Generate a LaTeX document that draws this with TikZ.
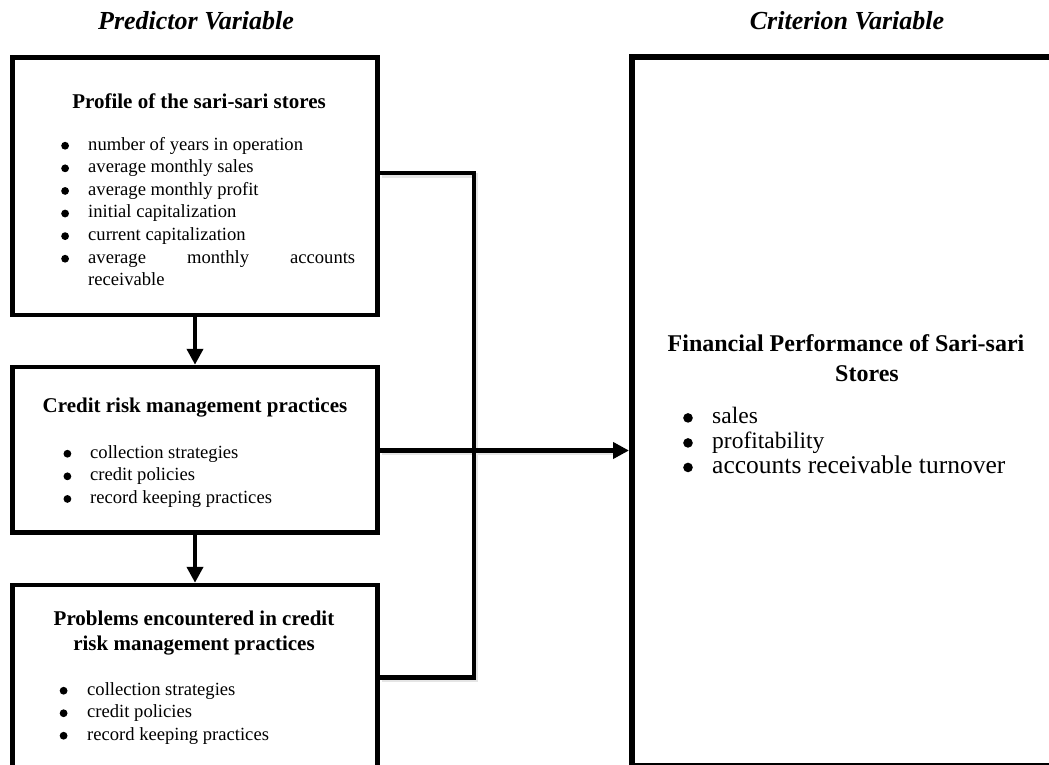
\documentclass[tikz,border=0pt]{standalone}
\usepackage{fontspec}
\setmainfont{Liberation Serif}
\usetikzlibrary{arrows.meta}
\newcommand{\dotb}[1]{\tikz[baseline=-0.5ex]\fill[black] (0,0) circle (#1);}
\newcommand{\blt}[2]{\makebox[28pt][l]{\hspace*{#1}\dotb{3.9pt}}#2}
\begin{document}
\begin{tikzpicture}[x=1pt,y=-1pt,
  lbox/.style={draw, line width=4.5pt, rectangle, inner sep=0pt},
  rbox/.style={draw, line width=6pt, rectangle, inner sep=0pt},
  conn/.style={line width=4.5pt, line join=miter, line cap=butt},
  shd/.style={line width=5pt, line join=miter, draw=black!10, transform canvas={shift={(1.8pt,-2.2pt)}}},
  arr/.style={conn, -{Triangle[length=16pt,width=16pt]}},
  ttl/.style={anchor=base, inner sep=0pt, font=\fontsize{26}{30}\selectfont\bfseries\itshape},
  hd/.style={anchor=base, inner sep=0pt, font=\fontsize{21}{25}\selectfont\bfseries},
  rhd/.style={anchor=base, inner sep=0pt, font=\fontsize{24}{28}\selectfont\bfseries},
  itm/.style={anchor=base west, inner sep=0pt, font=\fontsize{18.6}{22.6}\selectfont},
  ritm/.style={anchor=base west, inner sep=0pt, font=\fontsize{23.5}{28}\selectfont},
]
\useasboundingbox (0,0) rectangle (1049,765);
\fill[white] (0,0) rectangle (1049,765);
\clip (0,0) rectangle (1049,765);

% titles
\node[ttl] (tp) at (196,30) {Predictor Variable};
\node[ttl] (tc) at (847,30) {Criterion Variable};

% boxes
\node[lbox, minimum width=365pt, minimum height=257.3pt] (b1) at (195,186.35) {};
\node[lbox, minimum width=365pt, minimum height=165.5pt] (b2) at (195,449.75) {};
\node[lbox, minimum width=365pt, minimum height=183pt] (b3) at (195,676.5) {};
\node[rbox, minimum width=430pt, minimum height=708.7pt] (r) at (847,411.65) {};

% connector points
\coordinate (j1) at (474,173);
\coordinate (j3) at (474,677.5);
\coordinate (j2) at (474,450.5);

% faint shadows of the connectors
\draw[shd] (b1.east |- j1) -- (j1) -- (j3) -- (b3.east |- j3);
\draw[shd] (b2.east |- j2) -- ([xshift=-16pt]r.west |- j2);

% box 1 text
\node[hd] (h1) at (199,109) {Profile of the sari-sari stores};
\node[itm] (i11) at (60,150) {\blt{1pt}{number of years in operation}};
\node[itm] (i12) at (60,172.6) {\blt{1pt}{average monthly sales}};
\node[itm] (i13) at (60,195.2) {\blt{1pt}{average monthly profit}};
\node[itm] (i14) at (60,217.8) {\blt{1pt}{initial capitalization}};
\node[itm] (i15) at (60,240.4) {\blt{1pt}{current capitalization}};
\node[itm] (i16) at (60,263) {\blt{1pt}{\hbox to 267pt{average\hfil monthly\hfil accounts}}};
\node[itm] (i17) at (88,285.6) {receivable};

% box 2 text
\node[hd] (h2) at (195,412.7) {Credit risk management practices};
\node[itm] (i21) at (62,458) {\blt{1.3pt}{collection strategies}};
\node[itm] (i22) at (62,480.6) {\blt{1.3pt}{credit policies}};
\node[itm] (i23) at (62,503.2) {\blt{1.3pt}{record keeping practices}};

% box 3 text
\node[hd] (h3a) at (194,625) {Problems encountered in credit};
\node[hd] (h3b) at (194,650) {risk management practices};
\node[itm] (i31) at (59,695) {\blt{0.5pt}{collection strategies}};
\node[itm] (i32) at (59,717.5) {\blt{0.5pt}{credit policies}};
\node[itm] (i33) at (59,740) {\blt{0.5pt}{record keeping practices}};

% right box text
\node[rhd] (rh1) at (846,351.7) {Financial Performance of Sari-sari};
\node[rhd] (rh2) at (867,381.7) {Stores};
\node[ritm] (ri1) at (683,423.3) {\makebox[29pt][l]{\dotb{4.8pt}}sales};
\node[ritm] (ri2) at (683,448.3) {\makebox[29pt][l]{\dotb{4.8pt}}profitability};
\node[ritm, font=\fontsize{25.5}{28}\selectfont] (ri3) at (683,473.3) {\makebox[29pt][l]{\dotb{4.8pt}}accounts receivable turnover};

% connectors
\draw[arr] (b1.south) -- (b2.north);
\draw[arr] (b2.south) -- (b3.north);
\draw[conn] (b1.east |- j1) -- (j1) -- (j3) -- (b3.east |- j3);
\draw[arr] (b2.east |- j2) -- (r.west |- j2);
\end{tikzpicture}
\end{document}
